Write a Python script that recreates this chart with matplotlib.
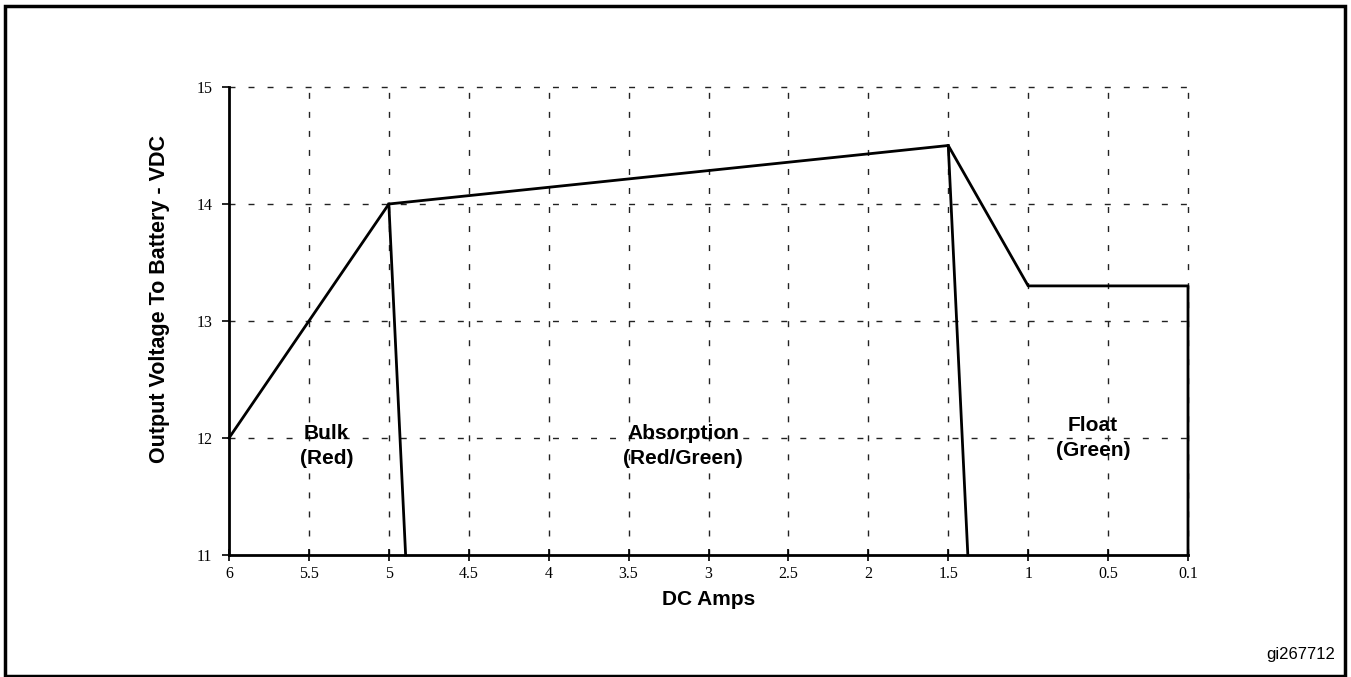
import matplotlib
matplotlib.use('Agg')
import matplotlib.pyplot as plt
import matplotlib.patches as mpatches

# x axis is categorical: evenly spaced labels
amp_labels = ['6', '5.5', '5', '4.5', '4', '3.5', '3', '2.5', '2', '1.5', '1', '0.5', '0.1']
volt_ticks = [11, 12, 13, 14, 15]

# charge curve (x given as position along the label axis)
curve_x = [0, 2, 9, 10, 12, 12]
curve_y = [12, 14, 14.5, 13.3, 13.3, 11]

# stage boundaries dropping to the axis
bulk_edge_x = [2, 2.21]
bulk_edge_y = [14, 11]
abs_edge_x = [9, 9.245]
abs_edge_y = [14.5, 11]

stage_names = ['Bulk\n(Red)', 'Absorption\n(Red/Green)', 'Float\n(Green)']
stage_x = [1.22, 5.68, 10.81]
stage_y = [11.93, 11.93, 12.0]

fig = plt.figure(figsize=(13.51, 6.77), dpi=100)
fig.patch.set_facecolor('white')
ax = fig.add_axes([229 / 1351, 1 - 555 / 677, (1188 - 229) / 1351, (555 - 87) / 677])

pos = list(range(len(amp_labels)))

# dashed grid
for p in pos[1:]:
    ax.plot([p, p], [11, 15], color='#222222', lw=1.0, dashes=(4.3, 9.4), zorder=1, clip_on=False)
for v in volt_ticks[1:]:
    ax.plot([0, 12], [v, v], color='#222222', lw=1.0, dashes=(4.3, 9.4), zorder=1, clip_on=False)

ax.plot(curve_x, curve_y, color='black', lw=2, zorder=3, clip_on=False)
ax.plot(bulk_edge_x, bulk_edge_y, color='black', lw=2, zorder=3, clip_on=False)
ax.plot(abs_edge_x, abs_edge_y, color='black', lw=2, zorder=3, clip_on=False)

for name, x, y in zip(stage_names, stage_x, stage_y):
    ax.text(x, y, name, ha='center', va='center', fontsize=15, fontweight='bold',
            family='Liberation Sans', linespacing=1.4)

ax.set_xlim(0, 12)
ax.set_ylim(11, 15)
ax.set_xticks(pos)
ax.set_xticklabels(amp_labels, family='Liberation Serif', fontsize=11.5)
ax.set_yticks(volt_ticks)
ax.set_yticklabels([str(v) for v in volt_ticks], family='Liberation Serif', fontsize=11.5)
ax.tick_params(axis='x', direction='inout', length=8, width=1.2, pad=4)
ax.tick_params(axis='y', direction='out', length=5, width=1.2, pad=18)
for lbl in ax.get_yticklabels():
    lbl.set_horizontalalignment('left')

ax.spines['top'].set_visible(False)
ax.spines['right'].set_visible(False)
ax.spines['left'].set_linewidth(2)
ax.spines['bottom'].set_linewidth(2)

ax.set_xlabel('DC Amps', fontsize=15, fontweight='bold', family='Liberation Sans', labelpad=6)
ax.set_ylabel('Output Voltage To Battery - VDC', fontsize=15.5, fontweight='bold',
              family='Liberation Sans')
ax.yaxis.set_label_coords(-0.062, 0.547)

# outer frame and figure id
fig.patches.append(mpatches.Rectangle((5 / 1351, 1 / 677), 1340 / 1351, 670 / 677,
                                      transform=fig.transFigure, fill=False,
                                      edgecolor='black', lw=2.5))
fig.text(1335 / 1351, 1 - 654 / 677, 'gi267712', ha='right', va='center',
         fontsize=12, family='Liberation Sans')

fig.savefig('out.png', dpi=100)
